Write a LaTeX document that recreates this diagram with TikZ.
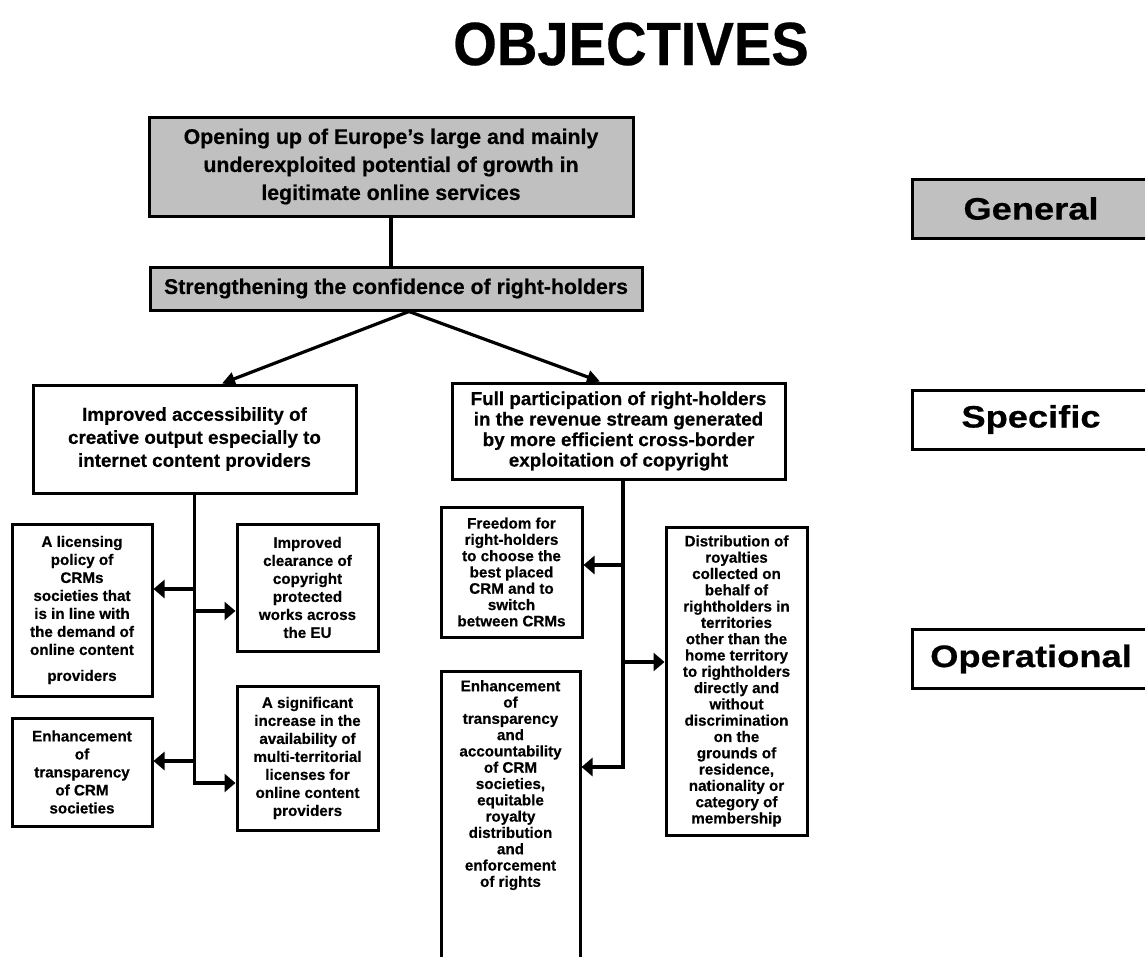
\documentclass[tikz,border=0pt]{standalone}
\usepackage{fontspec}
\setmainfont{Liberation Sans}[BoldFeatures={FakeBold=0.5}]
\usetikzlibrary{arrows.meta,calc}
\definecolor{boxgray}{RGB}{192,192,192}
\begin{document}
\begin{tikzpicture}[x=1pt,y=-1pt,
  every node/.style={font=\bfseries, align=center, inner sep=0pt},
  boxline/.style={draw=black, line width=3pt},
  bigbox/.style={boxline, font=\fontsize{21.3}{28}\selectfont\bfseries},
  opbox/.style={boxline, font=\fontsize{15.2}{18}\selectfont\bfseries},
  opboxr/.style={boxline, font=\fontsize{15.2}{16.3}\selectfont\bfseries},
  lvlbox/.style={boxline, minimum width=238, minimum height=59, font=\fontsize{31}{31}\selectfont\bfseries},
  conn/.style={line width=3.2pt},
  toparr/.style={conn, -{Triangle[length=13pt,width=13pt]}},
  brarr/.style={conn, -{Triangle[length=11pt,width=18pt]}}
]
\useasboundingbox[fill=white] (0,0) rectangle (1145,956);

% title
\node (title) at (631,44) {\fontsize{61}{61}\selectfont\bfseries\scalebox{0.92}[1]{OBJECTIVES}};

% general level
\node[bigbox, fill=boxgray, minimum width=484, minimum height=99] (top) at (391,166.5)
  {Opening up of Europe’s large and mainly\\underexploited potential of growth in\\legitimate online services};
\node[bigbox, fill=boxgray, minimum width=492, minimum height=43] (str) at (396,288.5)
  {Strengthening the confidence of right-holders};

% specific level
\node[boxline, font=\fontsize{18.8}{23}\selectfont\bfseries, minimum width=323, minimum height=108] (spec1) at (194.5,439)
  {Improved accessibility of\\creative output especially to\\internet content providers};
\node[boxline, font=\fontsize{18.8}{20.5}\selectfont\bfseries, minimum width=333, minimum height=96] (spec2) at (618.5,431)
  {Full participation of right-holders\\in the revenue stream generated\\by more efficient cross-border\\exploitation of copyright};

% operational level, left branch
\node[opbox, minimum width=140, minimum height=172] (lic) at (82,610)
  {A licensing\\policy of\\CRMs\\societies that\\is in line with\\the demand of\\online content\\[8pt]providers};
\node[opbox, minimum width=140, minimum height=108] (enh1) at (82,772)
  {Enhancement\\of\\transparency\\of CRM\\societies};
\node[opbox, minimum width=141, minimum height=127] (clr) at (307.5,587.5)
  {Improved\\clearance of\\copyright\\protected\\works across\\the EU};
\node[opbox, minimum width=141, minimum height=144] (sig) at (307.5,758)
  {A significant\\increase in the\\availability of\\multi-territorial\\licenses for\\online content\\providers};

% operational level, right branch
\node[opboxr, minimum width=141, minimum height=130] (free) at (511.5,572)
  {Freedom for\\right-holders\\to choose the\\best placed\\CRM and to\\switch\\between CRMs};
\node[opboxr, minimum width=141, minimum height=308] (dist) at (736.5,681)
  {Distribution of\\royalties\\collected on\\behalf of\\rightholders in\\territories\\other than the\\home territory\\to rightholders\\directly and\\without\\discrimination\\on the\\grounds of\\residence,\\nationality or\\category of\\membership};
\node[boxline, minimum width=139, minimum height=330, anchor=north] (enh2) at (510.5,670) {};
\node[anchor=north, font=\fontsize{15.2}{16.3}\selectfont\bfseries] (enh2t) at (510.5,680)
  {Enhancement\\of\\transparency\\and\\accountability\\of CRM\\societies,\\equitable\\royalty\\distribution\\and\\enforcement\\of rights};

% level labels
\node[lvlbox, fill=boxgray] (lgen) at (1031,208.5) {\scalebox{1.17}[1]{General}};
\node[lvlbox] (lspec) at (1031,419.5) {\scalebox{1.17}[1]{Specific}};
\node[lvlbox] (lop) at (1031,659) {\scalebox{1.17}[1]{Operational}};

% connectors
\draw[conn] (top.south) -- (top.south |- str.north);
\coordinate (apex) at ($(str.south)+(13,0)$);
\draw[toparr] (apex) -- ($(spec1.north)+(27.5,0)$);
\draw[toparr] (apex) -- ($(spec2.north)+(-18.5,0)$);

\coordinate (l1) at (spec1.south |- 0,589);
\coordinate (l2) at (spec1.south |- 0,611);
\coordinate (l3) at (spec1.south |- 0,761);
\draw[brarr] (spec1.south) |- ($(sig.west)+(0,25)$);
\draw[brarr] (l1) -- (l1 -| lic.east);
\draw[brarr] (l2) -- (l2 -| clr.west);
\draw[brarr] (l3) -- (l3 -| enh1.east);

\coordinate (rt) at ($(spec2.south)+(4.5,0)$);
\coordinate (r1) at (rt |- 0,565);
\coordinate (r2) at (rt |- 0,662);
\draw[brarr] (rt) |- (enh2.east |- 0,767);
\draw[brarr] (r1) -- (r1 -| free.east);
\draw[brarr] (r2) -- (r2 -| dist.west);
\end{tikzpicture}
\end{document}
